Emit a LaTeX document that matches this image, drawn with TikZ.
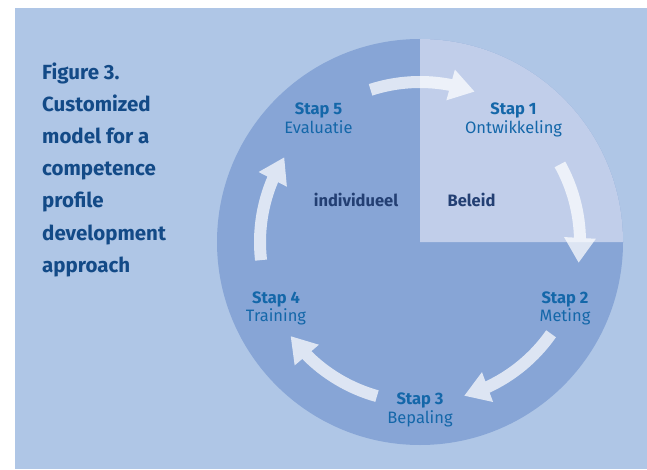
\documentclass[tikz,border=0pt]{standalone}
\usepackage{fontspec}
\setmainfont{Fira Sans}
\usetikzlibrary{positioning}
\usetikzlibrary{arrows.meta}
\usetikzlibrary{bending}
\definecolor{pagebg}{HTML}{AFC6E6}
\definecolor{circlefill}{HTML}{87A5D6}
\definecolor{quadfill}{HTML}{C1CEEA}
\definecolor{titleblue}{HTML}{134A87}
\definecolor{stapblue}{HTML}{1467A9}
\definecolor{labelblue}{HTML}{233F73}

\begin{document}
\begin{tikzpicture}[x=1pt,y=1pt,
  figtitle/.style={anchor=base west,inner sep=0pt,font=\fontsize{20.5}{24}\selectfont\bfseries,text=titleblue},
  stapname/.style={anchor=base,inner sep=0pt,font=\fontsize{16.5}{19}\selectfont\bfseries,text=stapblue},
  stapdesc/.style={inner sep=0pt,font=\fontsize{16.5}{19}\selectfont,text=stapblue},
  sidelabel/.style={anchor=base,inner sep=0pt,font=\fontsize{16.5}{19}\selectfont\bfseries,text=labelblue},
  cyclearrow/.style={white,line width=12pt,-{Triangle[width=30pt,length=25pt]}}]
  \useasboundingbox (0,0) rectangle (647,469);
  \fill[pagebg] (15,0) rectangle (647,461);
  \coordinate (c) at (420,227);
  \fill[circlefill] (c) circle[radius=203];
  \fill[quadfill] (c) -- ++(203,0) arc[start angle=0,end angle=90,radius=203] -- cycle;

  \foreach \txt [count=\i from 0] in {Figure 3.,Customized,model for a,competence,profile,development,approach}
    \node[figtitle] (title\i) at (42,{389-32*\i}) {\txt};

  \node[stapname] (stap1) at (513.5,354) {Stap 1};
  \node[stapdesc,below=18.3pt of stap1.base,anchor=base] (ontw) {Ontwikkeling};
  \node[stapname] (stap2) at (565,165.7) {Stap 2};
  \node[stapdesc,below=18.4pt of stap2.base,anchor=base] (meting) {Meting};
  \node[stapname] (stap3) at (420,64.7) {Stap 3};
  \node[stapdesc,below=19pt of stap3.base,anchor=base] (bepaling) {Bepaling};
  \node[stapname] (stap4) at (276,165.7) {Stap 4};
  \node[stapdesc,below=18.4pt of stap4.base,anchor=base] (training) {Training};
  \node[stapname] (stap5) at (318.5,354) {Stap 5};
  \node[stapdesc,below=18.3pt of stap5.base,anchor=base] (evaluatie) {Evaluatie};

  \node[sidelabel] (indiv) at (356,262.3) {individueel};
  \node[sidelabel] (beleid) at (471.5,262.3) {Beleid};

  \begin{scope}[transparency group,opacity=0.72]
    \foreach \from/\to in {108/70,29/-7.5,-35/-74,-105.6/-144,186.5/148}
      \draw[cyclearrow] ([shift={(\from:160)}]c) arc[start angle=\from,end angle=\to,radius=160];
  \end{scope}
\end{tikzpicture}
\end{document}
